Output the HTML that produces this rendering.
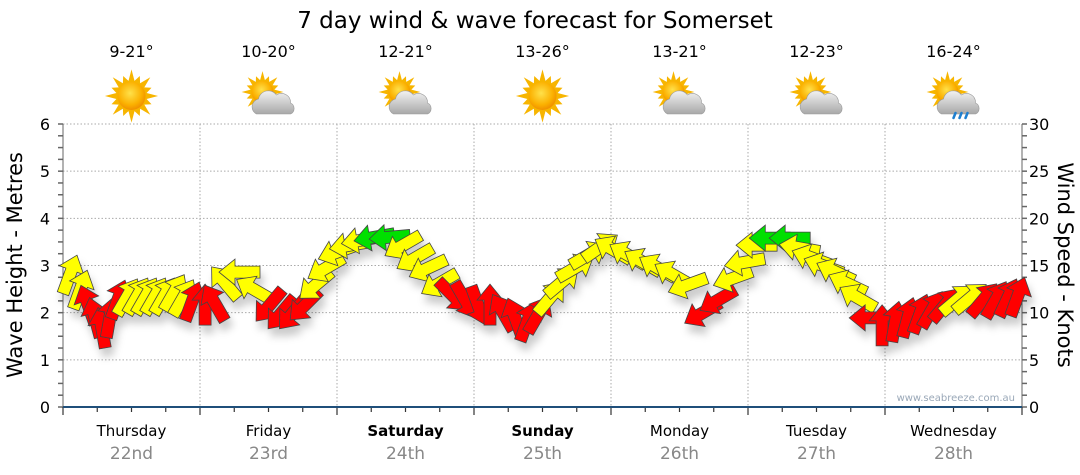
<!DOCTYPE html>
<html><head><meta charset="utf-8">
<style>
html,body{margin:0;padding:0;background:#fff;width:1080px;height:475px;overflow:hidden}
svg{display:block;font-family:"DejaVu Sans","Liberation Sans",sans-serif}
</style></head>
<body>
<svg id="chart" width="1080" height="475" viewBox="0 0 1080 475" xmlns="http://www.w3.org/2000/svg">
<defs>
<radialGradient id="sunG" cx="45%" cy="40%" r="60%"><stop offset="0" stop-color="#ffe14a"/><stop offset="0.7" stop-color="#fbb000"/><stop offset="1" stop-color="#f09000"/></radialGradient>
<linearGradient id="cloudG" x1="0" y1="0" x2="0" y2="1"><stop offset="0" stop-color="#f2f2f2"/><stop offset="1" stop-color="#a8a8a8"/></linearGradient>
<filter id="shadow" x="-50%" y="-50%" width="200%" height="200%"><feDropShadow dx="3" dy="8" stdDeviation="4" flood-color="#000" flood-opacity="0.2"/></filter>
</defs>
<text x="535" y="28" text-anchor="middle" font-size="23" fill="#000">7 day wind &amp; wave forecast for Somerset</text>
<g id="grid"></g>
<g id="axes"></g>
<g id="icons"></g>
<g id="arrows" filter="url(#shadow)"></g>
<text x="1015" y="401" text-anchor="end" font-size="10" fill="#9aa8b8">www.seabreeze.com.au</text>
<text transform="translate(22,265) rotate(-90)" text-anchor="middle" font-size="21" fill="#000">Wave Height - Metres</text>
<text transform="translate(1058,265) rotate(90)" text-anchor="middle" font-size="21" fill="#000">Wind Speed - Knots</text>
</svg>
<script>
const days = ["Thursday","Friday","Saturday","Sunday","Monday","Tuesday","Wednesday"];
const dates = ["22nd","23rd","24th","25th","26th","27th","28th"];
const boldDays = [false,false,true,true,false,false,false];
const temps = ["9-21°","10-20°","12-21°","13-26°","13-21°","12-23°","16-24°"];
const weather = ["sun","cloud","cloud","sun","cloud","cloud","rain"];
const waveTicks = [0,1,2,3,4,5,6];
const windTicks = [0,5,10,15,20,25,30];
const hours = [1.2,3.0,4.4,5.6,6.8,8.2,9.6,11.2,13.0,14.5,16.1,17.7,19.4,21.0,22.6,24.9,26.6,28.4,31.0,33.6,36.2,38.3,40.3,42.4,44.3,46.1,48.2,50.3,52.4,54.6,57.3,59.6,61.7,64.0,66.0,68.2,70.4,72.7,74.8,77.1,79.2,81.3,83.2,85.3,87.4,89.7,92.0,94.1,96.4,99.0,101.6,104.2,106.9,109.5,112.1,114.8,117.4,119.5,121.6,123.9,127.4,129.1,131.2,133.3,135.4,137.5,139.3,141.4,143.5,145.8,148.0,150.1,152.2,154.5,156.6,158.9,161.2,163.4,165.5,167.2];
const waveHeights = [2.8,2.48,2.16,1.89,1.67,1.89,2.27,2.33,2.35,2.35,2.35,2.35,2.42,2.31,2.23,2.16,2.2,2.63,2.86,2.48,2.16,2.0,2.0,2.16,2.59,2.95,3.29,3.43,3.54,3.6,3.6,3.43,3.16,2.95,2.63,2.37,2.27,2.16,2.16,2.0,1.89,1.8,1.95,2.31,2.65,2.95,3.22,3.39,3.33,3.22,3.07,2.95,2.8,2.59,2.0,2.27,2.73,3.07,3.43,3.58,3.58,3.37,3.16,2.99,2.86,2.61,2.31,1.89,1.72,1.8,1.89,1.97,2.06,2.16,2.27,2.31,2.27,2.27,2.31,2.33];
const windDirs = [20,20,340,345,350,10,20,30,30,30,30,30,30,30,20,0,330,320,270,300,220,220,220,225,230,240,250,260,260,260,265,240,240,245,240,135,150,160,0,330,340,20,30,40,50,60,60,55,300,300,300,300,300,250,240,240,250,260,270,270,270,280,290,290,295,295,300,270,0,10,15,20,30,40,50,50,40,30,25,20];
const windClass = ["Y","Y","R","R","R","R","R","Y","Y","Y","Y","Y","Y","Y","R","R","R","Y","Y","Y","R","R","R","R","Y","Y","Y","Y","Y","G","G","Y","Y","Y","Y","R","R","R","R","R","R","R","R","Y","Y","Y","Y","Y","Y","Y","Y","Y","Y","Y","R","R","Y","Y","Y","G","G","Y","Y","Y","Y","Y","Y","R","R","R","R","R","R","R","Y","Y","R","R","R","R"];

const NS="http://www.w3.org/2000/svg";
const X0=63,X1=1022,Y0=407,Y6=124;
const xScale=h=>X0+(X1-X0)*h/168;
const yScale=m=>Y0-(Y0-Y6)*m/6;
const windY=k=>Y0-(Y0-Y6)*k/30;
function mk(tag,attrs,parent){const e=document.createElementNS(NS,tag);for(const k in attrs)e.setAttribute(k,attrs[k]);parent.appendChild(e);return e;}
const grid=document.getElementById('grid'),axes=document.getElementById('axes'),icons=document.getElementById('icons'),arrows=document.getElementById('arrows');

waveTicks.forEach(v=>{
  if(v>0){const g=mk('line',{x1:X0,x2:X1,y1:yScale(v),y2:yScale(v),stroke:'#aaa','stroke-dasharray':'1.5,2','stroke-width':1},grid);
  
  }
  const t=mk('text',{x:50,y:yScale(v)+6,'text-anchor':'end','font-size':16,fill:'#000'},axes);t.textContent=v;
  
  
});
windTicks.forEach(v=>{
  const t=mk('text',{x:1029,y:windY(v)+6,'text-anchor':'start','font-size':16,fill:'#000'},axes);t.textContent=v;
  
  
});
for(let m=0;m<=6.001;m+=0.25){const y=yScale(m);
  mk('line',{x1:X0-5,x2:X0,y1:y,y2:y,stroke:'#666','stroke-width':1.5},axes);
  mk('line',{x1:X1,x2:X1+5,y1:y,y2:y,stroke:'#666','stroke-width':1.5},axes);}
mk('line',{x1:X0,x2:X0,y1:Y6,y2:Y0,stroke:'#666'},axes);
mk('line',{x1:X1,x2:X1,y1:Y6,y2:Y0,stroke:'#666'},axes);
for(let d=0;d<=7;d++){const x=xScale(d*24);
  if(d>0&&d<7){const g=mk('line',{x1:x,x2:x,y1:Y6,y2:Y0,stroke:'#aaa','stroke-dasharray':'1.5,2'},grid);
  
  }}
for(let h=0;h<=168;h+=6){const x=xScale(h);mk('line',{x1:x,x2:x,y1:Y0,y2:Y0+(h%24===0?8:5),stroke:'#333','stroke-width':1.2},axes);}
mk('line',{x1:X0,x2:X1,y1:Y0,y2:Y0,stroke:'#1f4f7a','stroke-width':2},axes);

function sun(g,cx,cy,r){
  let pts=[];for(let i=0;i<32;i++){const a=i*Math.PI/16;const rr=i%2?r*1.1:(i%4?r*1.55:r*1.9);pts.push((cx+rr*Math.sin(a)).toFixed(1)+','+(cy-rr*Math.cos(a)).toFixed(1));}
  mk('polygon',{points:pts.join(' '),fill:'#f7b500'},g);
  mk('circle',{cx:cx,cy:cy,r:r,fill:'url(#sunG)'},g);
}
function cloud(g,cx,cy){
  mk('path',{d:`M${cx-16},${cy+10} a8,8 0 0 1 2,-15 a10,10 0 0 1 18,-4 a9,9 0 0 1 14,8 a6,6 0 0 1 0,11 z`,fill:'url(#cloudG)',stroke:'#999','stroke-width':0.6},g);
}
days.forEach((d,i)=>{
  const cx=xScale(i*24+12);
  const dl=mk('text',{x:cx,y:436,'text-anchor':'middle','font-size':15,fill:'#000','font-weight':boldDays[i]?'bold':'normal'},axes);dl.textContent=d;
  
  
  const dt=mk('text',{x:cx,y:459,'text-anchor':'middle','font-size':17,fill:'#888'},axes);dt.textContent=dates[i];
  
  
  const tt=mk('text',{x:cx,y:57,'text-anchor':'middle','font-size':16,fill:'#000'},icons);tt.textContent=temps[i];
  
  
  const g=mk('g',{},icons);
  
  
  if(weather[i]==='sun'){sun(g,cx,96,14);}
  else{sun(g,cx-6,92,11);cloud(g,cx+4,104);
    if(weather[i]==='rain'){mk('path',{d:`M${cx+2},${113} l-2,5 M${cx+8},${113} l-2,5 M${cx+14},${113} l-2,5`,stroke:'#1e7fd0','stroke-width':2.5,'stroke-linecap':'round'},g);}}
});

const colors={Y:'#ffff00',R:'#ff0000',G:'#00e000'};
hours.forEach((h,i)=>{
  const x=xScale(h),y=yScale(waveHeights[i]);
  const p=mk('path',{d:'M0,-21 L13,-5 L6,-5 L6,20 L-6,20 L-6,-5 L-13,-5 Z',fill:colors[windClass[i]],stroke:'#444','stroke-width':0.8,'stroke-linejoin':'miter',transform:`translate(${x.toFixed(1)},${y.toFixed(1)}) rotate(${windDirs[i]})`},arrows);
  
  
});
</script>
</body></html>
